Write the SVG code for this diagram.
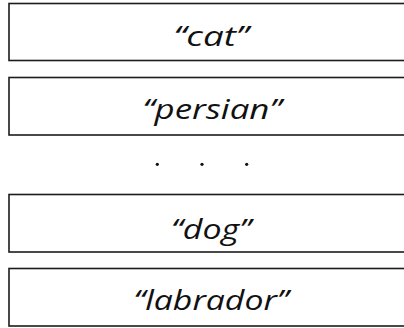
<svg xmlns="http://www.w3.org/2000/svg" width="404" height="328" viewBox="0 0 404 328">
  <style>
    .box { fill: #ffffff; stroke: #1c1c1c; stroke-width: 1.6; }
    .label { font-family: "Open Sans", "Noto Sans", sans-serif; font-style: italic; font-size: 28px; fill: #111111; text-anchor: middle; }
    .dot { fill: #111111; }
  </style>
  <rect width="404" height="328" fill="#ffffff"/>
  <g id="node-cat">
    <rect class="box" x="9" y="3.5" width="404" height="57"/>
    <text class="label" x="211" y="46" textLength="75" lengthAdjust="spacingAndGlyphs">“cat”</text>
  </g>
  <g id="node-persian">
    <rect class="box" x="9" y="77.5" width="404" height="57.5"/>
    <text class="label" x="212" y="119" textLength="139" lengthAdjust="spacingAndGlyphs">“persian”</text>
  </g>
  <g id="ellipsis">
    <circle class="dot" cx="157.3" cy="164.3" r="1.6"/>
    <circle class="dot" cx="202" cy="164.3" r="1.6"/>
    <circle class="dot" cx="246.7" cy="164.3" r="1.6"/>
  </g>
  <g id="node-dog">
    <rect class="box" x="9" y="194.5" width="404" height="57.5"/>
    <text class="label" x="211" y="239" textLength="80" lengthAdjust="spacingAndGlyphs">“dog”</text>
  </g>
  <g id="node-labrador">
    <rect class="box" x="9" y="268.5" width="404" height="57.5"/>
    <text class="label" x="211" y="310" textLength="155" lengthAdjust="spacingAndGlyphs">“labrador”</text>
  </g>
  <g id="connectors"/>
</svg>
